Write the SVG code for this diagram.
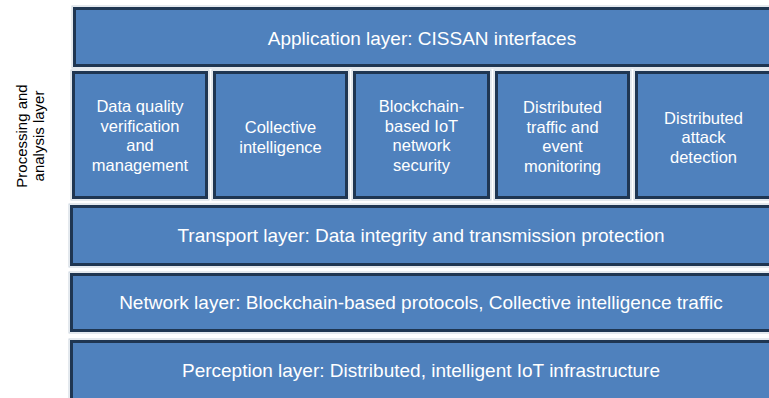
<svg xmlns="http://www.w3.org/2000/svg" width="769" height="398" viewBox="0 0 769 398">
<style>
.box{fill:#4F81BD;stroke:#1F3652;stroke-width:3}
.halo{fill:none;stroke:#C9D3DE;stroke-width:1}
.t{font-family:"Liberation Sans",Arial,sans-serif;fill:#FFFFFF;text-anchor:middle}
.big{font-size:19px}
.mid{font-size:16.5px}
.side{font-family:"Liberation Sans",Arial,sans-serif;fill:#000000;text-anchor:middle;font-size:15px}
</style>
<rect width="769" height="398" fill="#FFFFFF"/>
<g id="side-label">
<text class="side" transform="translate(26.5,136) rotate(-90)"><tspan x="0" y="0">Processing and</tspan><tspan x="0" y="17">analysis layer</tspan></text>
</g>
<g id="application">
<rect class="halo" x="72" y="6" width="702" height="62"/>
<rect class="box" x="74.5" y="8.5" width="698" height="57"/>
<text class="t big" x="422" y="44.5">Application layer: CISSAN interfaces</text>
</g>
<g id="data-quality">
<rect class="halo" x="71" y="70" width="138" height="130"/>
<rect class="box" x="73.5" y="72.5" width="133" height="125"/>
<text class="t mid"><tspan x="140" y="112">Data quality</tspan><tspan x="140" y="131.5">verification</tspan><tspan x="140" y="151">and</tspan><tspan x="140" y="170.5">management</tspan></text>
</g>
<g id="collective-intelligence">
<rect class="halo" x="212" y="70" width="137" height="130"/>
<rect class="box" x="214.5" y="72.5" width="132" height="125"/>
<text class="t mid"><tspan x="280.5" y="133">Collective</tspan><tspan x="280.5" y="152.5">intelligence</tspan></text>
</g>
<g id="blockchain-security">
<rect class="halo" x="352" y="70" width="139" height="130"/>
<rect class="box" x="354.5" y="72.5" width="134" height="125"/>
<text class="t mid"><tspan x="421.5" y="112">Blockchain-</tspan><tspan x="421.5" y="131.5">based IoT</tspan><tspan x="421.5" y="151">network</tspan><tspan x="421.5" y="170.5">security</tspan></text>
</g>
<g id="traffic-monitoring">
<rect class="halo" x="494" y="70" width="137" height="130"/>
<rect class="box" x="496.5" y="72.5" width="132" height="125"/>
<text class="t mid"><tspan x="562.5" y="113">Distributed</tspan><tspan x="562.5" y="132.5">traffic and</tspan><tspan x="562.5" y="152">event</tspan><tspan x="562.5" y="171.5">monitoring</tspan></text>
</g>
<g id="attack-detection">
<rect class="halo" x="634" y="70" width="140" height="130"/>
<rect class="box" x="636.5" y="72.5" width="136" height="125"/>
<text class="t mid"><tspan x="703.5" y="123.5">Distributed</tspan><tspan x="703.5" y="143">attack</tspan><tspan x="703.5" y="162.5">detection</tspan></text>
</g>
<g id="transport">
<rect class="halo" x="69" y="204" width="705" height="63"/>
<rect class="box" x="71.5" y="206.5" width="701" height="58"/>
<text class="t big" x="421" y="242">Transport layer: Data integrity and transmission protection</text>
</g>
<g id="network">
<rect class="halo" x="69" y="272" width="705" height="61"/>
<rect class="box" x="71.5" y="274.5" width="701" height="56"/>
<text class="t big" x="421" y="309">Network layer: Blockchain-based protocols, Collective intelligence traffic</text>
</g>
<g id="perception">
<rect class="halo" x="69" y="339" width="705" height="70"/>
<rect class="box" x="71.5" y="341.5" width="701" height="65"/>
<text class="t big" x="421" y="377">Perception layer: Distributed, intelligent IoT infrastructure</text>
</g>
<g id="connectors"></g>
</svg>
